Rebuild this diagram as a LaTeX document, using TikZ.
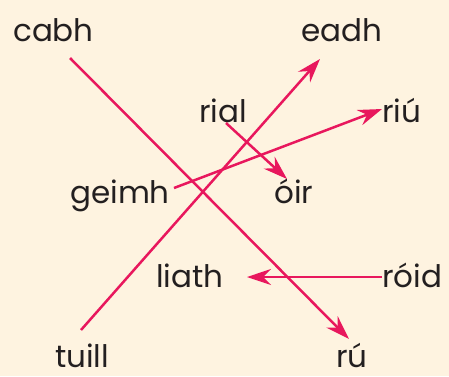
\documentclass[tikz,border=0pt]{standalone}
\usepackage{fontspec}
\setmainfont{Poppins}
\usepackage{xcolor}
\usetikzlibrary{arrows.meta}
\definecolor{paper}{HTML}{FEF3E0}
\definecolor{inkpink}{HTML}{E8175D}
\definecolor{ink}{HTML}{231F20}
\begin{document}
\begin{tikzpicture}[
  x=1pt, y=-1pt,
  word/.style={anchor=base west, inner sep=0pt, text depth=0pt, text=ink, font=\fontsize{31}{36}\selectfont},
  link/.style={draw=inkpink, line width=2.5pt, -{Stealth[length=24pt, width=16pt, inset=8pt]}},
]
\fill[paper] (0,0) rectangle (449,376);
\useasboundingbox (0,0) rectangle (449,376);
% words
\node[word] (cabh) at (13,41) {cabh};
\node[word] (eadh) at (301,41) {eadh};
\node[word] (rial) at (199,122) {rial};
\node[word] (riu) at (382,122) {riú};
\node[word] (geimh) at (70,203) {geimh};
\node[word] (oir) at (274,203) {óir};
\node[word] (liath) at (156,287) {liath};
\node[word] (roid) at (382,287) {róid};
\node[word] (tuill) at (55,367) {tuill};
\node[word] (ru) at (336,367) {rú};
% arrow ends
\coordinate (cabh-s) at (70,58);
\coordinate (ru-e) at (349,339);
\coordinate (tuill-s) at (81,330);
\coordinate (eadh-e) at (320,59);
\coordinate (rial-s) at (226,123);
\coordinate (oir-e) at (287,179);
\coordinate (geimh-s) at (174,188);
\coordinate (riu-e) at (382,109);
\coordinate (roid-s) at (382,277);
\coordinate (liath-e) at (247,277);
% matches
\draw[link] (cabh-s) -- (ru-e);
\draw[link] (tuill-s) -- (eadh-e);
\draw[link] (rial-s) -- (oir-e);
\draw[link] (geimh-s) -- (riu-e);
\draw[link] (roid-s) -- (liath-e);
\end{tikzpicture}
\end{document}
